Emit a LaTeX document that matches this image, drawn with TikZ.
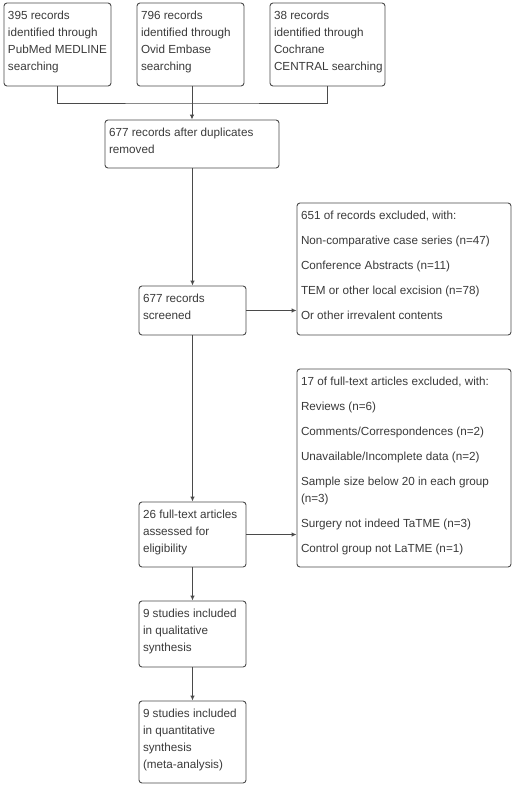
\documentclass[tikz,border=0pt]{standalone}
\usepackage{fontspec}
\setmainfont{Liberation Sans}
\usetikzlibrary{arrows.meta}
\definecolor{txtc}{HTML}{3A3A3A}
\definecolor{linec}{HTML}{4A4A4A}
\newcommand{\bxt}[3]{\parbox[c][#2pt][t]{#1pt}{\leftskip=4pt\rightskip=0pt plus 1fil\parskip=0pt\parindent=0pt\vspace*{5.3pt}\strut\parskip=8.3pt #3}}
\tikzset{
  box/.style={draw=linec, line width=0.9pt, rounded corners=3pt, inner sep=0pt, text=txtc, font=\fontsize{11.7}{16.7}\selectfont},
  conn/.style={draw=linec, line width=0.9pt},
  arr/.style={conn, -{Latex[length=5pt,width=4.5pt]}}
}
\begin{document}
\begin{tikzpicture}[x=1pt,y=-1pt]
\useasboundingbox (0,0) rectangle (516,787);
\node[box] (b1) at (57.5,44.5) {\bxt{107}{83}{395 records\\identified through\\PubMed MEDLINE\\searching}};
\node[box] (b2) at (190.5,44.5) {\bxt{107}{83}{796 records\\identified through\\Ovid Embase\\searching}};
\node[box] (b3) at (327.5,44.5) {\bxt{115}{83}{38 records\\identified through\\Cochrane\\CENTRAL searching}};
\node[box] (dup) at (192,144) {\bxt{174}{48}{677 records after duplicates\\removed}};
\node[box] (scr) at (192.5,310.5) {\bxt{107}{49}{677 records\\screened}};
\node[box] (ex1) at (404,269) {\bxt{214}{132}{651 of records excluded, with:\par Non-comparative case series (n=47)\par Conference Abstracts (n=11)\par TEM or other local excision (n=78)\par Or other irrevalent contents}};
\node[box] (full) at (192.5,534.5) {\bxt{107}{65}{26 full-text articles\\assessed for\\eligibility}};
\node[box] (ex2) at (404,468) {\bxt{214}{198}{17 of full-text articles excluded, with:\par Reviews (n=6)\par Comments/Correspondences (n=2)\par Unavailable/Incomplete data (n=2)\par Sample size below 20 in each group\\(n=3)\par Surgery not indeed TaTME (n=3)\par Control group not LaTME (n=1)}};
\node[box] (qual) at (192.5,634) {\bxt{107}{66}{9 studies included\\in qualitative\\synthesis}};
\node[box] (quant) at (192.5,742) {\bxt{107}{82}{9 studies included\\in quantitative\\synthesis\\(meta-analysis)}};
\coordinate (j) at (192,103);
\draw[conn] (b1.south) |- (j) -| (b3.south);
\draw[arr] (b2.south -| j) -- (dup.north -| j);
\draw[arr] (dup.south -| scr.north) -- (scr.north);
\draw[arr] (scr.east) -- (scr.east -| ex1.west);
\draw[arr] (scr.south) -- (full.north);
\draw[arr] (full.east) -- (full.east -| ex2.west);
\draw[arr] (full.south) -- (qual.north);
\draw[arr] (qual.south) -- (quant.north);
\end{tikzpicture}
\end{document}
